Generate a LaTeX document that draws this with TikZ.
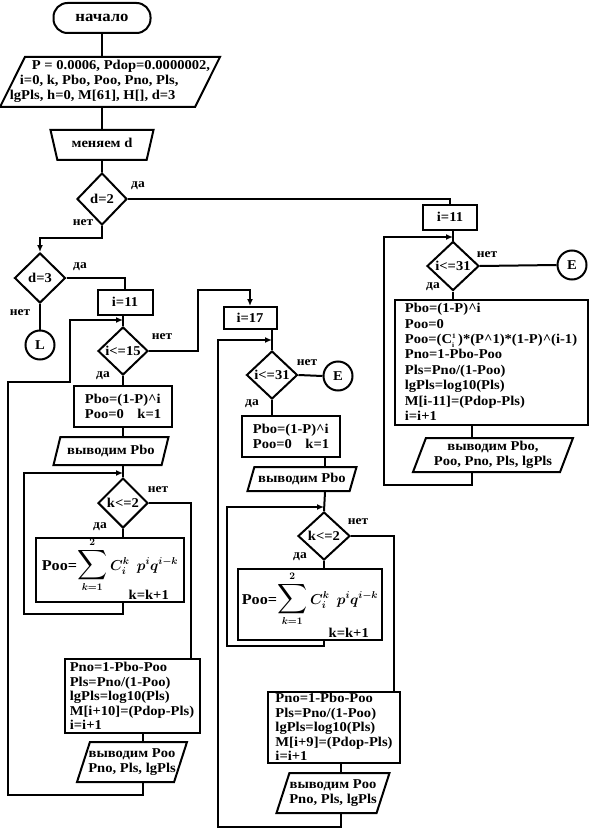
\documentclass[tikz,border=0pt]{standalone}
\usepackage{amsmath}
\usepackage{graphicx}
\usepackage{fontspec}
\setmainfont{Liberation Serif}[FakeStretch=1.08]
\usetikzlibrary{shapes.geometric, arrows.meta, positioning}

\newcommand{\fb}{\fontsize{13.5}{15}\selectfont\bfseries}
\newcommand{\fbt}{\fontsize{13.5}{14.4}\selectfont\bfseries}
\newcommand{\ca}{\textasciicircum}
\newcommand{\zl}[1]{\makebox[0pt]{\begin{tabular}{@{}l@{}}#1\end{tabular}}}
\newcommand{\zc}[1]{\makebox[0pt]{\begin{tabular}{@{}c@{}}#1\end{tabular}}}
\newcommand{\bigsum}{\mathop{\scalebox{1.45}{$\displaystyle\sum$}}\limits_{k=1}^{2}}
\newcommand{\sumpoo}{{\fontsize{15}{17}\selectfont Poo=}{\fontsize{14.4}{17}\selectfont\boldmath$\displaystyle\bigsum C_i^k\;\, p^iq^{i-k}$}}

\tikzset{
    base/.style={draw, line width=2pt, font=\fb, inner sep=1pt},
    term/.style={base, rounded corners=14pt, minimum width=97pt, minimum height=30pt},
    proc/.style={base, rectangle},
    io/.style={base, trapezium, trapezium left angle=68, trapezium right angle=112, trapezium stretches body},
    man/.style={base, trapezium, trapezium left angle=112, trapezium right angle=112, trapezium stretches body},
    cond/.style={base, diamond, aspect=1, inner sep=0pt},
    conn/.style={base, circle, minimum size=29pt, inner sep=0pt},
    lbl/.style={font=\fontsize{12.5}{14}\selectfont\bfseries, inner sep=0pt},
    line/.style={line width=2pt},
    arr/.style={line, -{Latex[length=7pt,width=6pt]}}
}

\begin{document}
\begin{tikzpicture}[x=1pt, y=-1pt]
    \useasboundingbox (0,0) rectangle (589,829);

    % column x positions of the connectors
    \coordinate (xB) at (123,0);
    \coordinate (xB2) at (143,0);
    \coordinate (xC) at (272,0);
    \coordinate (xC2) at (325,0);
    \coordinate (xC3) at (341,0);
    \coordinate (xD2) at (472,0);

    % start and input
    \node[term, font=\fontsize{15.5}{17}\selectfont\bfseries] (start) at (102,18) {начало};
    \node[io, trapezium left angle=62, trapezium right angle=118, minimum width=220pt, minimum height=50pt] (init) at (110,82)
        {\zl{\hspace*{22pt}P = 0.0006, Pdop=0.0000002,\\ \hspace*{10pt}i=0, k, Pbo, Poo, Pno, Pls,\\ lgPls, h=0, M[61], H[], d=3}};
    \node[man, minimum width=103pt, minimum height=30pt] (mend) at (102,145) {\zc{меняем d}};
    \node[cond, minimum width=50pt, minimum height=52pt] (d2) at (102,199) {d=2};
    \node[lbl] (d2y) at (138,186) {да};
    \node[lbl] (d2n) at (83,223) {нет};

    % d=3 branch
    \node[cond, minimum width=51pt, minimum height=50pt] (d3) at (40,278) {d=3};
    \node[lbl] (d3y) at (80,267) {да};
    \node[lbl] (d3n) at (20,313) {нет};
    \node[conn] (cL) at (40,345) {L};

    \node[proc, minimum width=55pt, minimum height=25pt] (b11m) at (125,302) {i=11};
    \node[cond, minimum width=50pt, minimum height=48pt] (q15) at (123,351) {i<=15};
    \node[lbl] (q15n) at (162,337) {нет};
    \node[lbl] (q15y) at (103,376) {да};
    \node[proc, minimum width=98pt, minimum height=41pt, align=left] (pbo1) at (123,406) {Pbo=(1-P)\ca i\\Poo=0\quad k=1};
    \node[io, minimum width=115pt, minimum height=28pt] (out1) at (111,451) {\zc{выводим Pbo}};
    \node[cond, minimum width=50pt, minimum height=50pt] (k1) at (123,503) {k<=2};
    \node[lbl] (k1n) at (158,490) {нет};
    \node[lbl] (k1y) at (100,527) {да};
    \node[proc, minimum width=148pt, minimum height=64pt, text height=20pt, text depth=20pt,
        label={[lbl, font=\fb, anchor=south east, xshift=-16pt, yshift=3pt]south east:k=k+1}] (sum1) at (110,570)
        {\sumpoo};
    \node[proc, minimum width=135pt, minimum height=74pt, align=left, font=\fbt] (pno1) at (132,696)
        {Pno=1-Pbo-Poo\\Pls=Pno/(1-Poo)\\lgPls=log10(Pls)\\M[i+10]=(Pdop-Pls)\\i=i+1};
    \node[io, minimum width=110pt, minimum height=40pt] (out2) at (132,762) {\zc{выводим Poo\\Pno, Pls, lgPls}};

    % d=2 branch, i from 17
    \node[proc, minimum width=53pt, minimum height=22pt] (b17) at (250,318) {i=17};
    \node[cond, minimum width=51pt, minimum height=48pt] (q31a) at (272,375) {i<=31};
    \node[lbl] (q31an) at (307,363) {нет};
    \node[lbl] (q31ay) at (252,404) {да};
    \node[conn] (cE1) at (338,376) {E};
    \node[proc, minimum width=98pt, minimum height=41pt, align=left] (pbo2) at (291,436) {Pbo=(1-P)\ca i\\Poo=0\quad k=1};
    \node[io, minimum width=109pt, minimum height=24pt] (out3) at (302,479) {\zc{выводим Pbo}};
    \node[cond, minimum width=52pt, minimum height=48pt] (k2) at (324,536) {k<=2};
    \node[lbl] (k2n) at (358,522) {нет};
    \node[lbl] (k2y) at (300,557) {да};
    \node[proc, minimum width=144pt, minimum height=71pt, text height=20pt, text depth=20pt,
        label={[lbl, font=\fb, anchor=south east, xshift=-14pt, yshift=3pt]south east:k=k+1}] (sum2) at (310,604)
        {\sumpoo};
    \node[proc, minimum width=132pt, minimum height=71pt, align=left, font=\fbt] (pno2) at (334,727)
        {Pno=1-Pbo-Poo\\Pls=Pno/(1-Poo)\\lgPls=log10(Pls)\\M[i+9]=(Pdop-Pls)\\i=i+1};
    \node[io, minimum width=113pt, minimum height=40pt] (out4) at (333,793) {\zc{выводим Poo\\Pno, Pls, lgPls}};

    % right branch
    \node[proc, minimum width=54pt, minimum height=25pt] (b11r) at (450,217) {i=11};
    \node[cond, minimum width=52pt, minimum height=49pt] (q31b) at (453,266) {i<=31};
    \node[lbl] (q31bn) at (487,255) {нет};
    \node[lbl] (q31by) at (433,287) {да};
    \node[conn] (cE2) at (572,265) {E};
    \node[proc, minimum width=193pt, minimum height=125pt, align=left, font={\fontsize{13.5}{15.4}\selectfont\bfseries}] (big) at (491,362)
        {Pbo=(1-P)\ca i\\Poo=0\\Poo=(C$^{\scriptscriptstyle\mathbf{1}}_{\scriptscriptstyle\mathbf{i}}$\,)*(P\ca1)*(1-P)\ca(i-1)\\Pno=1-Pbo-Poo\\Pls=Pno/(1-Poo)\\lgPls=log10(Pls)\\M[i-11]=(Pdop-Pls)\\i=i+1};
    \node[io, minimum width=160pt, minimum height=34pt] (out5) at (493,455) {\zc{выводим Pbo,\\Poo, Pno, Pls, lgPls}};

    % loop corners
    \coordinate (q15in) at (123,320);
    \coordinate (q15step) at (70,382);
    \coordinate (q15back) at (8,795);
    \coordinate (q15out) at (198,290);
    \coordinate (k1in) at (123,473);
    \coordinate (k1back) at (24,614);
    \coordinate (q31ain) at (272,340);
    \coordinate (q31aback) at (218,827);
    \coordinate (k2in) at (324,507);
    \coordinate (k2back) at (227,646);
    \coordinate (q31bin) at (453,237);
    \coordinate (q31bback) at (384,485);

    % main line
    \draw[line] (start.south) -- (start.south |- init.north);
    \draw[line] (init.south -| start.south) -- (mend.north);
    \draw[line] (mend.south) -- (d2.north);
    \draw[line] (d2.east) -| (b11r.north); % d=2 yes
    \draw[arr] (d2.south) -- ++(0,12) -| (d3.north); % d=2 no
    \draw[line] (d3.east) -| (b11m.north);
    \draw[line] (d3.south) -- (cL.north);

    % first loop, i to 15
    \draw[line] (b11m.south -| xB) -- (q15.north);
    \draw[arr] (q15.east) -| (q15out) -| (b17.north);
    \draw[line] (q15.south) -- (pbo1.north);
    \draw[line] (pbo1.south -| xB) -- (out1.north -| xB);
    \draw[line] (out1.south -| xB) -- (k1.north);
    \draw[line] (k1.east) -| ([xshift=-10pt]pno1.north east);
    \draw[line] (k1.south) -- (k1.south |- sum1.north);
    \draw[arr] (sum1.south -| xB) |- (k1back) |- (k1in);
    \draw[line] (pno1.south -| xB2) -- (out2.north -| xB2);
    \draw[arr] (out2.south -| xB2) |- (q15back) |- (q15step) |- (q15in);

    % second loop, i to 31
    \draw[line] (b17.south -| xC) -- (q31a.north);
    \draw[line] (q31a.east) -- (cE1.west);
    \draw[line] (q31a.south) -- (q31a.south |- pbo2.north);
    \draw[line] (pbo2.south -| xC2) -- (out3.north -| xC2);
    \draw[line] (out3.south -| xC2) -- (k2.north);
    \draw[line] (k2.east) -| ([xshift=-7pt]pno2.north east);
    \draw[line] (k2.south) -- (k2.south |- sum2.north);
    \draw[arr] (sum2.south -| k2) |- (k2back) |- (k2in);
    \draw[line] (pno2.south -| xC3) -- (out4.north -| xC3);
    \draw[arr] (out4.south -| xC3) |- (q31aback) |- (q31ain);

    % right loop
    \draw[line] (b11r.south -| q31b) -- (q31b.north);
    \draw[line] (q31b.east) -- (cE2.west);
    \draw[line] (q31b.south) -- (q31b.south |- big.north);
    \draw[line] (big.south -| xD2) -- (out5.north -| xD2);
    \draw[arr] (out5.south -| xD2) |- (q31bback) |- (q31bin);
\end{tikzpicture}
\end{document}
